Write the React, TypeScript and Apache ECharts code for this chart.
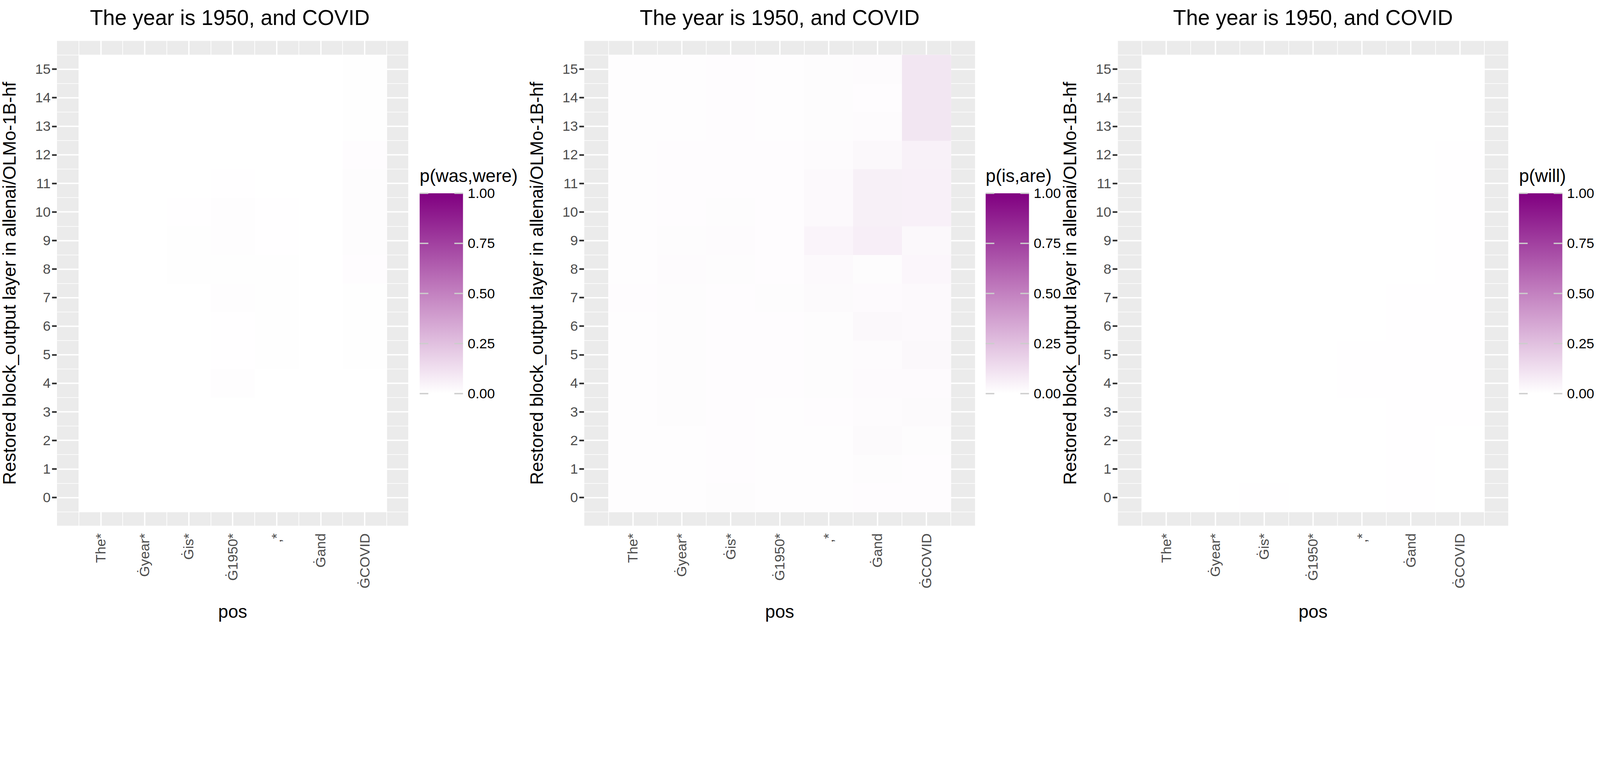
import React from 'react';
import * as echarts from 'echarts';

const tokens = ['The*', 'Ġyear*', 'Ġis*', 'Ġ1950*', ',*', 'Ġand', 'ĠCOVID'];
const layers = [0, 1, 2, 3, 4, 5, 6, 7, 8, 9, 10, 11, 12, 13, 14, 15];
const legendTitles = ['p(was,were)', 'p(is,are)', 'p(will)'];
const legendBreaks = [0, 0.25, 0.5, 0.75, 1];
const title = 'The year is 1950, and COVID';

// rows = layers 0..15, columns = tokens
const wasWere = [
  [0.001, 0.001, 0.001, 0.001, 0.001, 0.001, 0.001],
  [0.001, 0.001, 0.001, 0.001, 0.001, 0.001, 0.001],
  [0.001, 0.001, 0.001, 0.001, 0.001, 0.001, 0.001],
  [0.001, 0.001, 0.001, 0.001, 0.001, 0.001, 0.001],
  [0.001, 0.001, 0.001, 0.006, 0.001, 0.001, 0.001],
  [0.001, 0.001, 0.001, 0.002, 0.005, 0.001, 0.004],
  [0.001, 0.001, 0.001, 0.002, 0.005, 0.001, 0.004],
  [0.001, 0.001, 0.001, 0.006, 0.005, 0.001, 0.004],
  [0.001, 0.001, 0.005, 0.004, 0.005, 0.001, 0.01],
  [0.001, 0.001, 0.005, 0.007, 0.002, 0.001, 0.012],
  [0.001, 0.001, 0.002, 0.007, 0.002, 0.001, 0.012],
  [0.001, 0.001, 0.001, 0.002, 0.001, 0.001, 0.012],
  [0.001, 0.001, 0.001, 0.001, 0.001, 0.001, 0.01],
  [0.001, 0.001, 0.001, 0.001, 0.001, 0.001, 0.004],
  [0.001, 0.001, 0.001, 0.001, 0.001, 0.001, 0.004],
  [0.001, 0.001, 0.001, 0.001, 0.001, 0.001, 0.004],
];
const isAre = [
  [0.008, 0.008, 0.012, 0.008, 0.008, 0.01, 0.01],
  [0.008, 0.008, 0.01, 0.008, 0.008, 0.012, 0.01],
  [0.008, 0.008, 0.01, 0.008, 0.008, 0.02, 0.012],
  [0.008, 0.012, 0.01, 0.008, 0.01, 0.015, 0.02],
  [0.008, 0.012, 0.01, 0.01, 0.012, 0.018, 0.018],
  [0.008, 0.012, 0.01, 0.01, 0.012, 0.015, 0.028],
  [0.008, 0.012, 0.01, 0.01, 0.012, 0.028, 0.025],
  [0.01, 0.012, 0.01, 0.012, 0.02, 0.018, 0.025],
  [0.006, 0.014, 0.012, 0.01, 0.022, 0.012, 0.035],
  [0.006, 0.012, 0.016, 0.01, 0.042, 0.065, 0.028],
  [0.006, 0.01, 0.012, 0.01, 0.024, 0.06, 0.058],
  [0.006, 0.01, 0.01, 0.01, 0.024, 0.06, 0.058],
  [0.006, 0.01, 0.01, 0.01, 0.015, 0.028, 0.055],
  [0.006, 0.008, 0.01, 0.008, 0.012, 0.015, 0.1],
  [0.006, 0.008, 0.01, 0.008, 0.012, 0.01, 0.1],
  [0.006, 0.008, 0.01, 0.008, 0.012, 0.015, 0.1],
];
const will = [
  [0.001, 0.001, 0.003, 0.001, 0.001, 0.003, 0.001],
  [0.001, 0.001, 0.001, 0.001, 0.001, 0.003, 0.001],
  [0.001, 0.001, 0.001, 0.001, 0.001, 0.003, 0.001],
  [0.001, 0.001, 0.001, 0.001, 0.001, 0.003, 0.003],
  [0.001, 0.001, 0.001, 0.001, 0.003, 0.003, 0.003],
  [0.001, 0.001, 0.001, 0.001, 0.003, 0.003, 0.003],
  [0.001, 0.001, 0.001, 0.001, 0.001, 0.003, 0.003],
  [0.001, 0.001, 0.001, 0.001, 0.001, 0.003, 0.003],
  [0.001, 0.001, 0.001, 0.001, 0.001, 0.001, 0.003],
  [0.001, 0.001, 0.001, 0.001, 0.001, 0.001, 0.003],
  [0.001, 0.001, 0.001, 0.001, 0.001, 0.001, 0.003],
  [0.001, 0.001, 0.001, 0.001, 0.001, 0.001, 0.003],
  [0.001, 0.001, 0.001, 0.001, 0.001, 0.001, 0.003],
  [0.001, 0.001, 0.001, 0.001, 0.001, 0.001, 0.001],
  [0.001, 0.001, 0.001, 0.001, 0.001, 0.001, 0.001],
  [0.001, 0.001, 0.001, 0.001, 0.001, 0.001, 0.001],
];
const panels = [wasWere, isAre, will];

const FONT = 'Liberation Sans';
const LOW = '#ffffff';
const HIGH = '#800080';

// layout in reference px (4800 x 2000), scaled to the actual viewport
const gridLefts = [153, 1752, 3352];
const gridWidths = [1073, 1174, 1174];
const gridTop = 104;
const gridHeight = 1243;
const legendX = [1259, 2957, 4557];
const legendTop = 495;
const legendH = 513;
const legendW = 130;

const App: React.FC = () => {
  const ref = React.useRef<HTMLDivElement>(null);

  React.useEffect(() => {
    document.body.style.margin = '0';
    document.body.style.overflow = 'hidden';
    if (!ref.current) return;
    const chart = echarts.init(ref.current, null, { renderer: 'svg' });
    const sx = ref.current.clientWidth / 4800;
    const sy = ref.current.clientHeight / 2000;
    const f = Math.min(sx, sy);

    const grid: any[] = [];
    const xAxis: any[] = [];
    const yAxis: any[] = [];
    const series: any[] = [];
    const visualMap: any[] = [];
    const graphic: any[] = [];
    const tickCustomX = tokens.map((_, k) => k + 1);

    panels.forEach((values, i) => {
      grid.push({
        left: gridLefts[i] * sx, top: gridTop * sy, width: gridWidths[i] * sx, height: gridHeight * sy,
        show: true, backgroundColor: '#ebebeb', borderWidth: 0,
      });
      // minor grid lines
      xAxis.push({
        type: 'value', gridIndex: i, min: 0, max: 8, interval: 0.5, position: 'top',
        axisLine: { show: false }, axisTick: { show: false }, axisLabel: { show: false },
        splitLine: { lineStyle: { color: '#ffffff', width: 2 * f } },
      });
      yAxis.push({
        type: 'value', gridIndex: i, min: -1, max: 16, interval: 0.5, position: 'right',
        axisLine: { show: false }, axisTick: { show: false }, axisLabel: { show: false },
        splitLine: { lineStyle: { color: '#ffffff', width: 2 * f } },
      });
      // major axes
      xAxis.push({
        type: 'value', gridIndex: i, min: 0, max: 8, interval: 1, position: 'bottom',
        name: 'pos', nameLocation: 'middle', nameGap: 230 * f,
        nameTextStyle: { fontFamily: FONT, fontSize: 54 * f, color: '#000' },
        axisLine: { show: false },
        axisTick: { show: true, customValues: tickCustomX, length: 14 * f, lineStyle: { color: '#333', width: 5 * f } },
        axisLabel: {
          customValues: tickCustomX,
          rotate: 90, margin: 22 * f, fontFamily: FONT, fontSize: 42 * f, color: '#4d4d4d',
          formatter: (v: number) => (v >= 1 && v <= 7 ? tokens[v - 1] : ''),
        },
        splitLine: { lineStyle: { color: '#ffffff', width: 4 * f } },
      });
      yAxis.push({
        type: 'value', gridIndex: i, min: -1, max: 16, interval: 1, position: 'left',
        name: 'Restored block_output layer in allenai/OLMo-1B-hf', nameLocation: 'middle', nameGap: 115 * f,
        nameTextStyle: { fontFamily: FONT, fontSize: 54 * f, color: '#000' },
        axisLine: { show: false },
        axisTick: { show: true, customValues: layers, length: 14 * f, lineStyle: { color: '#333', width: 5 * f } },
        axisLabel: {
          customValues: layers,
          margin: 18 * f, fontFamily: FONT, fontSize: 42 * f, color: '#4d4d4d',
          formatter: (v: number) => String(v),
        },
        splitLine: { lineStyle: { color: '#ffffff', width: 4 * f } },
      });

      const data: number[][] = [];
      values.forEach((row, li) => row.forEach((v, ti) => data.push([ti + 1, layers[li], v])));
      series.push({
        type: 'custom', xAxisIndex: 2 * i + 1, yAxisIndex: 2 * i + 1, data,
        encode: { x: 0, y: 1 },
        renderItem: (params: any, api: any) => {
          const x = api.value(0);
          const y = api.value(1);
          const p0 = api.coord([x - 0.5, y + 0.5]);
          const p1 = api.coord([x + 0.5, y - 0.5]);
          return {
            type: 'rect',
            shape: { x: p0[0], y: p0[1], width: p1[0] - p0[0] + 0.5, height: p1[1] - p0[1] + 0.5 },
            style: { fill: api.visual('color') },
          };
        },
      });
      visualMap.push({
        show: false, type: 'continuous', min: 0, max: 1, dimension: 2, seriesIndex: i,
        inRange: { color: [LOW, HIGH] },
      });

      const cx = (gridLefts[i] + gridWidths[i] / 2) * sx;
      graphic.push({
        type: 'text', x: cx, y: 18 * sy,
        style: { text: title, fontFamily: FONT, fontSize: 64 * f, fill: '#000', textAlign: 'center', textVerticalAlign: 'top' },
      });
      const lx = legendX[i] * sx;
      const lw = legendW * sx;
      graphic.push({
        type: 'text', x: lx, y: (legendTop - 22) * sy,
        style: { text: legendTitles[i], fontFamily: FONT, fontSize: 54 * f, fill: '#000', textAlign: 'left', textVerticalAlign: 'bottom' },
      });
      graphic.push({
        type: 'rect', shape: { x: lx, y: legendTop * sy, width: lw, height: legendH * sy },
        style: {
          fill: new echarts.graphic.LinearGradient(0, 0, 0, 1, [
            { offset: 0, color: HIGH },
            { offset: 0.5, color: '#c381c0' },
            { offset: 1, color: LOW },
          ]),
        },
      });
      legendBreaks.forEach((b) => {
        const yy = (legendTop + legendH * (1 - b)) * sy;
        graphic.push({ type: 'line', shape: { x1: lx, y1: yy, x2: lx + 26 * sx, y2: yy }, style: { stroke: '#cccccc', lineWidth: 4 * f } });
        graphic.push({ type: 'line', shape: { x1: lx + lw - 26 * sx, y1: yy, x2: lx + lw, y2: yy }, style: { stroke: '#cccccc', lineWidth: 4 * f } });
        graphic.push({
          type: 'text', x: lx + lw + 14 * sx, y: yy,
          style: { text: b.toFixed(2), fontFamily: FONT, fontSize: 42 * f, fill: '#000', textAlign: 'left', textVerticalAlign: 'middle' },
        });
      });
    });

    chart.setOption({ animation: false, backgroundColor: '#ffffff', grid, xAxis, yAxis, series, visualMap, graphic });
    return () => chart.dispose();
  }, []);

  return <div ref={ref} style={{ width: '100vw', height: '100vh' }} />;
};

export default App;
